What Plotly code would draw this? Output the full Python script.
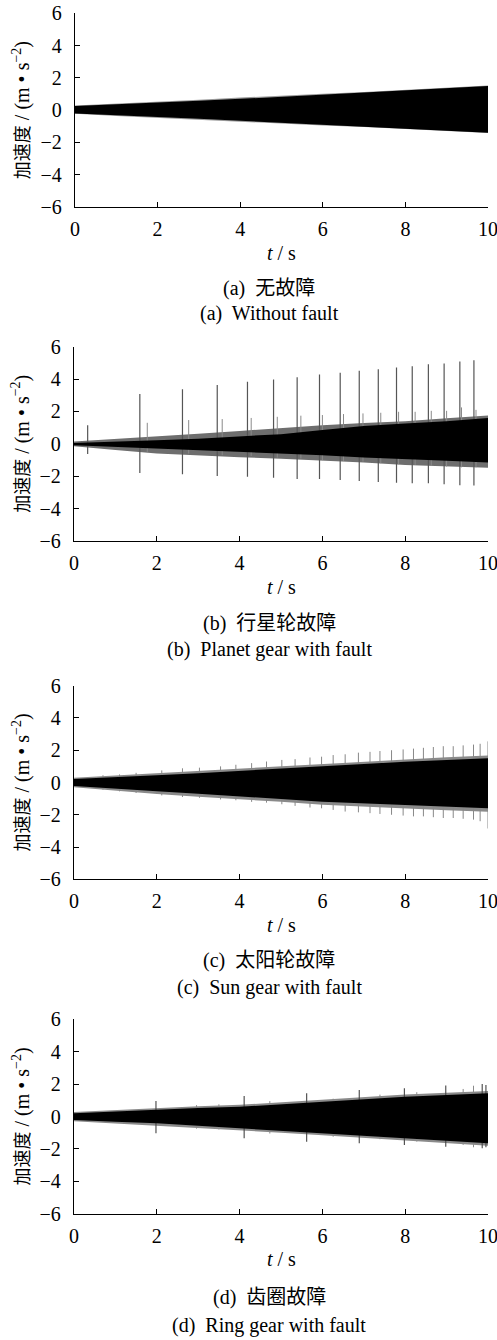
import plotly.graph_objects as go

# ---------------- data ----------------
T_KNOTS = [0, 1, 2, 3, 4, 5, 6, 7, 8, 9, 10]
X_TICKS = [0, 2, 4, 6, 8, 10]
Y_TICKS = [-6, -4, -2, 0, 2, 4, 6]

# (a) without fault: envelope of the dense signal
A_INNER_UP = [0.25, 0.35, 0.45, 0.58, 0.70, 0.84, 0.98, 1.10, 1.22, 1.36, 1.50]
A_INNER_LO = [-0.20, -0.31, -0.42, -0.53, -0.65, -0.78, -0.92, -1.03, -1.15, -1.27, -1.40]
A_OUTER_UP = [0.29, 0.40, 0.52, 0.65, 0.78, 0.92, 1.02, 1.13, 1.25, 1.39, 1.53]
A_OUTER_LO = [-0.23, -0.36, -0.49, -0.61, -0.73, -0.84, -0.95, -1.05, -1.17, -1.29, -1.42]

# (b) planet gear fault
B_INNER_UP = [0.05, 0.12, 0.22, 0.32, 0.45, 0.60, 0.85, 1.10, 1.25, 1.40, 1.60]
B_INNER_LO = [-0.08, -0.20, -0.32, -0.42, -0.50, -0.60, -0.70, -0.85, -0.95, -1.05, -1.15]
B_OUTER_UP = [0.15, 0.30, 0.45, 0.62, 0.80, 0.98, 1.15, 1.28, 1.40, 1.58, 1.75]
B_OUTER_LO = [-0.15, -0.38, -0.60, -0.70, -0.82, -0.92, -1.02, -1.15, -1.31, -1.40, -1.48]
B_SPIKE_T = [0.33, 1.59, 2.62, 3.46, 4.19, 4.82, 5.39, 5.93, 6.43, 6.89, 7.35,
             7.79, 8.17, 8.56, 8.94, 9.32, 9.66]
B_SPIKE_TOP = [1.15, 3.08, 3.37, 3.63, 3.84, 3.98, 4.12, 4.29, 4.39, 4.52, 4.60,
               4.72, 4.80, 4.91, 4.97, 5.09, 5.16]
B_SPIKE_BOT = [-0.62, -1.80, -1.88, -1.99, -2.03, -2.09, -2.17, -2.17, -2.24, -2.30, -2.35,
               -2.40, -2.44, -2.44, -2.50, -2.56, -2.58]
B_SUB_T = [1.77, 2.77, 3.58, 4.28, 4.91, 5.48, 6.00, 6.51, 6.98, 7.41, 7.84,
           8.24, 8.63, 9.00, 9.36, 9.71]
B_SUB_TOP = [1.30, 1.47, 1.53, 1.60, 1.67, 1.74, 1.78, 1.84, 1.88, 1.92, 1.98,
             1.98, 2.04, 2.04, 2.25, 2.10]
B_SUB_BOT = [-0.50, -0.60, -0.70, -0.75, -0.85, -0.90, -1.00, -1.05, -1.10, -1.20, -1.25,
             -1.30, -1.35, -1.40, -1.45, -1.45]

# (c) sun gear fault
C_INNER_UP = [0.22, 0.32, 0.45, 0.58, 0.71, 0.85, 0.98, 1.14, 1.29, 1.40, 1.50]
C_INNER_LO = [-0.22, -0.38, -0.55, -0.70, -0.84, -1.02, -1.19, -1.30, -1.40, -1.50, -1.60]
C_OUTER_UP = [0.30, 0.44, 0.60, 0.74, 0.88, 1.02, 1.15, 1.30, 1.45, 1.56, 1.68]
C_OUTER_LO = [-0.30, -0.50, -0.72, -0.88, -1.02, -1.20, -1.38, -1.50, -1.60, -1.72, -1.82]
C_SPIKE_T = [0.70, 1.10, 1.50, 2.12, 2.62, 3.03, 3.54, 3.91, 4.29, 4.65, 5.02, 5.34,
             5.70, 5.98, 6.26, 6.55, 6.87, 7.15, 7.39, 7.67, 7.95, 8.20, 8.44, 8.68,
             8.92, 9.16, 9.40, 9.65, 9.81, 10.0]
C_SPIKE_TOP = [0.45, 0.50, 0.60, 0.75, 0.88, 0.92, 1.00, 1.10, 1.20, 1.30, 1.40, 1.45,
               1.55, 1.60, 1.70, 1.75, 1.85, 1.90, 1.95, 2.00, 2.05, 2.10, 2.15, 2.20,
               2.25, 2.25, 2.30, 2.35, 2.40, 2.55]
C_SPIKE_BOT = [-0.45, -0.55, -0.65, -0.80, -0.90, -0.95, -1.05, -1.10, -1.20, -1.25, -1.35, -1.45,
               -1.55, -1.60, -1.70, -1.80, -1.85, -1.90, -1.95, -2.00, -2.05, -2.10, -2.10, -2.15,
               -2.20, -2.20, -2.25, -2.30, -2.40, -2.85]

# (d) ring gear fault
D_INNER_UP = [0.20, 0.32, 0.44, 0.52, 0.60, 0.75, 0.91, 1.06, 1.22, 1.32, 1.43]
D_INNER_LO = [-0.22, -0.32, -0.42, -0.58, -0.73, -0.88, -1.04, -1.20, -1.35, -1.50, -1.65]
D_OUTER_UP = [0.28, 0.40, 0.54, 0.63, 0.72, 0.88, 1.04, 1.19, 1.36, 1.46, 1.58]
D_OUTER_LO = [-0.30, -0.42, -0.54, -0.70, -0.86, -1.00, -1.16, -1.32, -1.48, -1.63, -1.80]
D_SPIKE_T = [1.98, 4.11, 5.62, 6.89, 7.98, 8.98, 9.86, 9.95]
D_SPIKE_TOP = [0.95, 1.27, 1.43, 1.64, 1.74, 1.92, 2.00, 1.95]
D_SPIKE_BOT = [-1.04, -1.35, -1.56, -1.65, -1.76, -1.86, -1.96, -1.90]
D_SUB_T = [2.96, 3.50, 4.73, 6.26, 7.39, 8.28, 9.40, 9.65]
D_SUB_TOP = [0.70, 0.75, 0.95, 1.10, 1.35, 1.50, 1.70, 1.90]
D_SUB_BOT = [-0.75, -0.80, -1.05, -1.25, -1.40, -1.55, -1.75, -1.90]

CAPTIONS_CN = ["(a)\u00a0 无故障", "(b)\u00a0 行星轮故障", "(c)\u00a0 太阳轮故障", "(d)\u00a0 齿圈故障"]
CAPTIONS_EN = ["(a)\u00a0 Without fault", "(b)\u00a0 Planet gear with fault",
               "(c)\u00a0 Sun gear with fault", "(d)\u00a0 Ring gear with fault"]
Y_TITLE = "<span style='font-size:18px'>加速度</span> / (m • s<sup>−2</sup>)"
X_TITLE = "<i>t</i> / s"

# ---------------- layout geometry (pixels) ----------------
W, H = 497, 1340
PANELS = [  # plot-area edges, x-title y, caption ys
    dict(l=75, r=488, t=13.3, b=207, xt=253, c1=288, c2=313),
    dict(l=74, r=488, t=346.7, b=541, xt=587, c1=623, c2=650),
    dict(l=74, r=488, t=685.7, b=879.3, xt=925, c1=960, c2=987),
    dict(l=74, r=488, t=1019.3, b=1213.7, xt=1259, c1=1297, c2=1325),
]

FONT = "Liberation Serif, Noto Sans CJK SC"
fig = go.Figure()


def axes(i):
    ax = "" if i == 0 else str(i + 1)
    return "x" + ax, "y" + ax


def band(i, up, lo, color):
    xa, ya = axes(i)
    fig.add_trace(go.Scatter(
        x=T_KNOTS + T_KNOTS[::-1], y=up + lo[::-1], fill="toself",
        fillcolor=color, mode="lines", line=dict(width=0, color=color),
        xaxis=xa, yaxis=ya, showlegend=False, hoverinfo="skip"))


def spikes(i, ts, tops, bots, color, width=1.1):
    xa, ya = axes(i)
    xs, ys = [], []
    for t, a, b in zip(ts, tops, bots):
        xs += [t, t, None]
        ys += [b, a, None]
    fig.add_trace(go.Scatter(
        x=xs, y=ys, mode="lines", line=dict(width=width, color=color),
        xaxis=xa, yaxis=ya, showlegend=False, hoverinfo="skip"))


bands = [
    (A_OUTER_UP, A_OUTER_LO, A_INNER_UP, A_INNER_LO, "#9a9a9a"),
    (B_OUTER_UP, B_OUTER_LO, B_INNER_UP, B_INNER_LO, "#6e6e6e"),
    (C_OUTER_UP, C_OUTER_LO, C_INNER_UP, C_INNER_LO, "#8a8a8a"),
    (D_OUTER_UP, D_OUTER_LO, D_INNER_UP, D_INNER_LO, "#8a8a8a"),
]
spike_sets = {
    1: [(B_SUB_T, B_SUB_TOP, B_SUB_BOT, "#8a8a8a", 1.0),
        (B_SPIKE_T, B_SPIKE_TOP, B_SPIKE_BOT, "#555555", 1.2)],
    2: [(C_SPIKE_T, C_SPIKE_TOP, C_SPIKE_BOT, "#888888", 1.0)],
    3: [(D_SUB_T, D_SUB_TOP, D_SUB_BOT, "#8a8a8a", 1.0),
        (D_SPIKE_T, D_SPIKE_TOP, D_SPIKE_BOT, "#444444", 1.1)],
}
for i, (ou, ol, iu, il, fringe) in enumerate(bands):
    band(i, ou, ol, fringe)
    for s in spike_sets.get(i, []):
        spikes(i, *s)
    band(i, iu, il, "#000000")

layout = dict(width=W, height=H, margin=dict(l=0, r=0, t=0, b=0, autoexpand=False),
              template="none", paper_bgcolor="white", plot_bgcolor="white",
              font=dict(family=FONT, size=20, color="black"), annotations=[])

for i, p in enumerate(PANELS):
    sfx = "" if i == 0 else str(i + 1)
    common = dict(ticks="inside", ticklen=5, tickwidth=1.3, tickcolor="black",
                  showline=True, linecolor="black", linewidth=1.3, showgrid=False,
                  zeroline=False, automargin=False, ticklabeloverflow="allow",
                  tickfont=dict(family=FONT, size=20, color="black"))
    layout["xaxis" + sfx] = dict(
        domain=[p["l"] / W, p["r"] / W], range=[0, 10], anchor="y" + sfx,
        tickvals=X_TICKS, ticklabelstandoff=4, **common)
    layout["yaxis" + sfx] = dict(
        domain=[1 - p["b"] / H, 1 - p["t"] / H], range=[-6, 6], anchor="x" + sfx,
        tickvals=Y_TICKS, ticklabelstandoff=8, **common)
    cy = (p["t"] + p["b"]) / 2
    layout["annotations"] += [
        dict(text=Y_TITLE, textangle=-90, xref="paper", yref="paper", x=21 / W,
             y=1 - cy / H, xanchor="center", yanchor="middle", showarrow=False,
             font=dict(family=FONT, size=20)),
        dict(text=X_TITLE, xref="paper", yref="paper", x=(p["l"] + p["r"]) / 2 / W,
             y=1 - p["xt"] / H, xanchor="center", yanchor="middle", showarrow=False,
             font=dict(family=FONT, size=20)),
        dict(text=CAPTIONS_CN[i], xref="paper", yref="paper", x=269 / W,
             y=1 - p["c1"] / H, xanchor="center", yanchor="middle", showarrow=False,
             font=dict(family=FONT, size=20)),
        dict(text=CAPTIONS_EN[i], xref="paper", yref="paper", x=269 / W,
             y=1 - p["c2"] / H, xanchor="center", yanchor="middle", showarrow=False,
             font=dict(family=FONT, size=20)),
    ]

fig.update_layout(**layout)
fig.write_html("out.html", config={"displayModeBar": False},
               post_script="document.body.style.margin='0';"
                           "document.body.style.overflow='hidden';")
